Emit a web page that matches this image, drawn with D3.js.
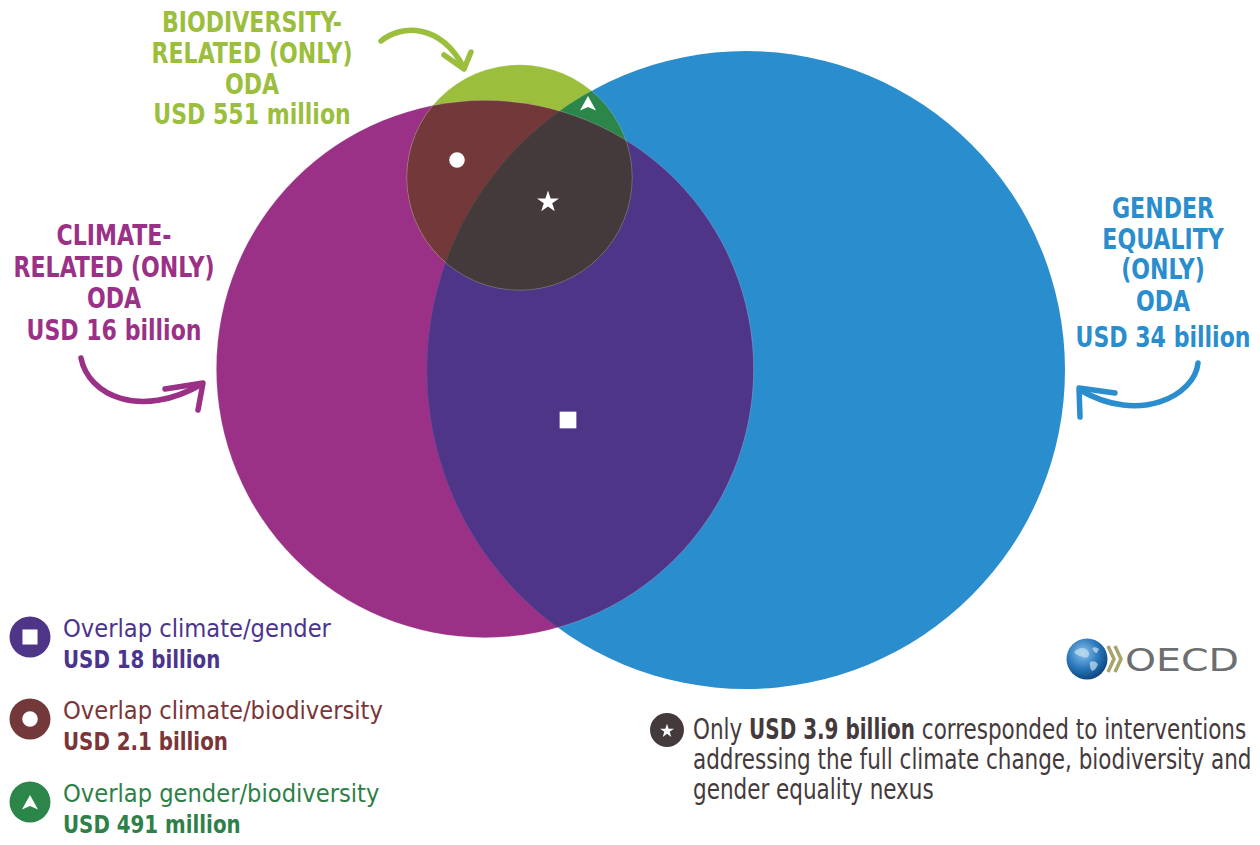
<!DOCTYPE html>
<html>
<head>
<meta charset="utf-8">
<script src="https://cdn.jsdelivr.net/npm/d3@7/dist/d3.min.js"></script>
<style>
  html, body { margin: 0; padding: 0; background: #ffffff; }
  svg { display: block; }
  text { font-family: "DejaVu Sans Condensed", "DejaVu Sans", sans-serif; white-space: pre; }
</style>
</head>
<body>
<svg id="chart" width="1260" height="845"></svg>
<script>
// ---------------- DATA (USD billion) ----------------
const setKeys     = ["climate", "bio", "gender"];
const setTitles   = [["CLIMATE-", "RELATED (ONLY)", "ODA"],
                     ["BIODIVERSITY-", "RELATED (ONLY)", "ODA"],
                     ["GENDER", "EQUALITY", "(ONLY)", "ODA"]];
const onlyValues  = [16, 0.551, 34];
const onlyLabels  = ["USD 16 billion", "USD 551 million", "USD 34 billion"];
const overlapPairs  = [["climate", "gender"], ["climate", "bio"], ["gender", "bio"]];
const overlapNames  = ["Overlap climate/gender", "Overlap climate/biodiversity", "Overlap gender/biodiversity"];
const overlapValues = [18, 2.1, 0.491];
const overlapLabels = ["USD 18 billion", "USD 2.1 billion", "USD 491 million"];
const nexusValue  = 3.9;
const nexusLabel  = "USD 3.9 billion";
const noteLines   = ["Only ", " corresponded to interventions",
                     "addressing the full climate change, biodiversity and",
                     "gender equality nexus"];

// ---------------- STYLE / LAYOUT ----------------
const setColors     = { climate: "#9b3186", bio: "#9bbe3c", gender: "#2a8dcd" };
const overlapColors = ["#4f3588", "#73393a", "#2d8649"];
const nexusColor    = "#453a3b";
const legendTextColors = ["#4b358c", "#7b3538", "#2e8048"];
const centers = { climate: [485, 369], bio: [519.5, 177.5], gender: [746, 370] };

// text styles: condensed by fitting a sample string to its width in the reference
const textStyles = {
  heading:     { size: 27.5, weight: "bold",   sample: "RELATED (ONLY)", width: 201 },
  legendName:  { size: 25.5, weight: "normal", sample: "Overlap climate/biodiversity", width: 320 },
  legendValue: { size: 25.5, weight: "bold",   sample: "USD 2.1 billion", width: 165 },
  note:        { size: 28,   weight: "normal", sample: "addressing the full climate change, biodiversity and", width: 559 },
  noteBold:    { size: 28,   weight: "bold",   sample: "USD 3.9 billion", width: 166 }
};

const svg = d3.select("#chart");
const defs = svg.append("defs");

Object.values(textStyles).forEach(st => {
  const t = svg.append("text").attr("font-size", st.size).attr("font-weight", st.weight).text(st.sample);
  st.k = st.width / t.node().getComputedTextLength();
  t.remove();
});
function addText(parent, str, x, y, style, color, anchor) {
  const st = textStyles[style];
  const g = parent.append("g").attr("transform", `translate(${x},${y}) scale(${st.k},1)`);
  const t = g.append("text").attr("x", 0).attr("y", 0)
    .attr("font-size", st.size).attr("font-weight", st.weight)
    .attr("fill", color).attr("text-anchor", anchor || "start").text(str);
  return t.node().getComputedTextLength() * st.k;
}

// totals per set -> area-proportional radii
const totals = {};
setKeys.forEach((k, i) => { totals[k] = onlyValues[i]; });
overlapPairs.forEach((p, i) => { totals[p[0]] += overlapValues[i]; totals[p[1]] += overlapValues[i]; });
setKeys.forEach(k => { totals[k] += nexusValue; });
const rScale = d3.scaleSqrt().domain([0, d3.max(setKeys, k => totals[k])]).range([0, 319]);

const circles = setKeys.map(k => ({ key: k, cx: centers[k][0], cy: centers[k][1], r: rScale(totals[k]) }));
const byKey = Object.fromEntries(circles.map(c => [c.key, c]));

defs.selectAll("clipPath").data(circles).join("clipPath")
  .attr("id", d => "clip-" + d.key)
  .append("circle").attr("cx", d => d.cx).attr("cy", d => d.cy).attr("r", d => d.r);

const venn = svg.append("g");
venn.selectAll("circle.base").data(circles).join("circle")
  .attr("class", "base")
  .attr("cx", d => d.cx).attr("cy", d => d.cy).attr("r", d => d.r)
  .attr("fill", d => setColors[d.key]);
overlapPairs.forEach((p, i) => {
  const a = byKey[p[0]], b = byKey[p[1]];
  const draw = (b.r < a.r) ? [b, a] : [a, b];
  venn.append("circle")
    .attr("cx", draw[0].cx).attr("cy", draw[0].cy).attr("r", draw[0].r)
    .attr("clip-path", `url(#clip-${draw[1].key})`)
    .attr("fill", overlapColors[i]);
});
venn.append("g").attr("clip-path", "url(#clip-climate)")
  .append("circle")
  .attr("cx", byKey.bio.cx).attr("cy", byKey.bio.cy).attr("r", byKey.bio.r)
  .attr("clip-path", "url(#clip-gender)")
  .attr("fill", nexusColor);
venn.selectAll("circle.edge").data(circles.filter(c => c.key !== "gender")).join("circle")
  .attr("class", "edge")
  .attr("cx", d => d.cx).attr("cy", d => d.cy).attr("r", d => d.r)
  .attr("fill", "none").attr("stroke", "#ffffff").attr("stroke-opacity", 0.2).attr("stroke-width", 1);

// ---------------- MARKERS ----------------
const triPath = "M0,-8 L8,6.5 L0,3 L-8,6.5 Z";
const markerPath = {
  square: d3.symbol(d3.symbolSquare, 280)(),
  circle: d3.symbol(d3.symbolCircle, 190)(),
  triangle: triPath,
  star: d3.symbol(d3.symbolStar, 150)()
};
const markerShapes = ["square", "circle", "triangle"];
const markerPos = [[568, 420], [457, 160], [588, 104]];
markerShapes.forEach((s, i) => {
  svg.append("path").attr("d", markerPath[s])
    .attr("transform", `translate(${markerPos[i][0]},${markerPos[i][1]})`)
    .attr("fill", "#ffffff");
});
svg.append("path").attr("d", markerPath.star)
  .attr("transform", "translate(548,202)").attr("fill", "#ffffff");

// ---------------- SET LABELS ----------------
const labelPos = { climate: [114, 245], bio: [252, 32], gender: [1163, 218] };
const labelSteps = { climate: [31.5, 31.5, 32], bio: [31, 30.5, 30.5], gender: [30.5, 30.5, 32, 36] };
setKeys.forEach((k, i) => {
  const lines = setTitles[i].concat([onlyLabels[i]]);
  let y = labelPos[k][1];
  lines.forEach((ln, j) => {
    if (j > 0) y += labelSteps[k][j - 1];
    addText(svg, ln, labelPos[k][0], y, "heading", setColors[k], "middle");
  });
});

// ---------------- CURVED ARROWS ----------------
const arrows = [
  { color: setColors.bio, d: "M381,41 C400,25 440,22 464,68", head: "M444,55 L464,69 L471,52" },
  { color: setColors.climate, d: "M81,358 C88,395 140,420 202,384", head: "M165,389 L203,383 L198,410" },
  { color: setColors.gender, d: "M1198,363 C1195,395 1140,425 1080,390", head: "M1115,393 L1079,388 L1080,417" }
];
arrows.forEach(a => {
  svg.append("path").attr("d", a.d).attr("fill", "none").attr("stroke", a.color)
    .attr("stroke-width", 5.5).attr("stroke-linecap", "round");
  svg.append("path").attr("d", a.head).attr("fill", "none").attr("stroke", a.color)
    .attr("stroke-width", 5.5).attr("stroke-linecap", "round").attr("stroke-linejoin", "round");
});

// ---------------- LEGEND ----------------
const legendY = [637, 719, 802];
const legend = svg.append("g");
overlapNames.forEach((name, i) => {
  const y = legendY[i];
  legend.append("circle").attr("cx", 30).attr("cy", y).attr("r", 20.5).attr("fill", overlapColors[i]);
  const s = markerShapes[i];
  const scale = s === "square" ? 0.9 : 1;
  legend.append("path").attr("d", markerPath[s])
    .attr("transform", `translate(30,${y + (s === "triangle" ? 1 : 0)}) scale(${scale})`)
    .attr("fill", "#ffffff");
  addText(legend, name, 63, y, "legendName", legendTextColors[i]);
  addText(legend, overlapLabels[i], 63, y + 31, "legendValue", legendTextColors[i]);
});

// ---------------- NEXUS NOTE ----------------
svg.append("circle").attr("cx", 667).attr("cy", 730).attr("r", 17).attr("fill", nexusColor);
svg.append("path").attr("d", d3.symbol(d3.symbolStar, 60)()).attr("transform", "translate(667,731)").attr("fill", "#fff");
let nx = 693;
nx += addText(svg, noteLines[0], nx, 739, "note", nexusColor);
nx += addText(svg, nexusLabel, nx, 739, "noteBold", nexusColor);
addText(svg, noteLines[1], nx, 739, "note", nexusColor);
addText(svg, noteLines[2], 693, 769, "note", nexusColor);
addText(svg, noteLines[3], 693, 799, "note", nexusColor);

// ---------------- OECD LOGO ----------------
const g = defs.append("radialGradient").attr("id", "globe").attr("cx", "40%").attr("cy", "35%").attr("r", "70%");
g.append("stop").attr("offset", "0%").attr("stop-color", "#8cc3ec");
g.append("stop").attr("offset", "55%").attr("stop-color", "#2a78bb");
g.append("stop").attr("offset", "100%").attr("stop-color", "#0a3f78");
const logo = svg.append("g");
logo.append("circle").attr("cx", 1087).attr("cy", 659).attr("r", 20.5).attr("fill", "url(#globe)");
logo.append("path").attr("d", "M1074,652 q6,-6 12,-3 q5,4 2,8 q-4,2 -7,-1 q-4,0 -7,-4 Z M1090,662 q5,-2 8,2 q-2,6 -6,7 q-3,-4 -2,-9 Z M1092,648 q4,-2 7,1 l-2,4 q-3,0 -5,-5 Z")
  .attr("fill", "#c8dff0").attr("opacity", 0.7);
const chev = ["M1108,646 L1114,659 L1108,672", "M1115,646 L1121,659 L1115,672"];
chev.forEach(c => logo.append("path").attr("d", c).attr("fill", "none")
  .attr("stroke", "#a7a56c").attr("stroke-width", 3.5).attr("stroke-linejoin", "miter"));
logo.append("text").attr("x", 1125).attr("y", 671).attr("font-family", "Liberation Sans, Arial, sans-serif")
  .attr("font-size", 32).attr("fill", "#6d6e70").attr("textLength", 114).attr("lengthAdjust", "spacingAndGlyphs").text("OECD");
</script>
</body>
</html>
